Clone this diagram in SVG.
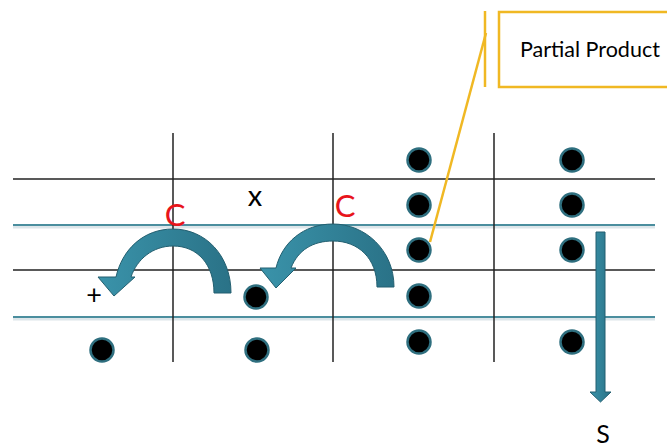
<svg xmlns="http://www.w3.org/2000/svg" width="667" height="448" viewBox="0 0 667 448">
<defs>
<style>
.blk{stroke:#222;stroke-width:1.5;fill:none}
.tl{stroke:#4B8E9E;stroke-width:2;fill:none}
.sh{stroke:#DDE6EA;stroke-width:3;fill:none}
.dot{fill:#000;stroke:#2F6F7F;stroke-width:2.5}
.arr{fill:url(#g);stroke:#235F70;stroke-width:1}
.or{stroke:#F0B823;stroke-width:2.5;fill:none}
.c{font-family:"Lato","Open Sans",sans-serif;font-size:31px;fill:#E8141B}
.t{font-family:"Lato","Open Sans",sans-serif;fill:#000}
</style>
<linearGradient id="g" x1="0" y1="0" x2="1" y2="0">
<stop offset="0" stop-color="#3A93AA"/>
<stop offset="1" stop-color="#2A7287"/>
</linearGradient>
</defs>
<rect width="667" height="448" fill="#fff"/>
<g id="grid">
<line class="blk" x1="13" y1="179" x2="655" y2="179"/>
<line class="blk" x1="13" y1="270" x2="655" y2="270"/>
<line class="sh" x1="13" y1="227" x2="655" y2="227"/>
<line class="sh" x1="13" y1="319" x2="655" y2="319"/>
<line class="tl" x1="13" y1="225" x2="655" y2="225"/>
<line class="tl" x1="13" y1="317" x2="655" y2="317"/>
<line class="blk" x1="173" y1="133" x2="173" y2="362"/>
<line class="blk" x1="333" y1="133" x2="333" y2="362"/>
<line class="blk" x1="494" y1="133" x2="494" y2="362"/>
</g>
<g id="dots">
<circle class="dot" cx="419" cy="160" r="11.5"/>
<circle class="dot" cx="419" cy="205" r="11.5"/>
<circle class="dot" cx="419" cy="250" r="11.5"/>
<circle class="dot" cx="419" cy="296" r="11.5"/>
<circle class="dot" cx="419" cy="342" r="11.5"/>
<circle class="dot" cx="572" cy="160" r="11.5"/>
<circle class="dot" cx="572" cy="205" r="11.5"/>
<circle class="dot" cx="572" cy="250" r="11.5"/>
<circle class="dot" cx="572" cy="342" r="11.5"/>
<circle class="dot" cx="256" cy="297" r="11.5"/>
<circle class="dot" cx="257" cy="350" r="11.5"/>
<circle class="dot" cx="102" cy="350" r="11.5"/>
</g>
<g id="connectors">
<path id="carry1" class="arr" d="M231,293 C231,255 205,229 173,229 C143,229 122,250 116,277 L98,277 L114,296 L135,277 L131,277 C137,259 153,246 173,246 C198,246 214,265 214,293 Z"/>
<path id="carry2" class="arr" d="M394,287 C394,250 365,224 333,224 C303,224 282,243 276,268 L260,268 L276,288 L296,268 L291,268 C298,250 313,241 333,241 C358,241 377,258 377,287 Z"/>
<path id="sum" class="arr" d="M596,232 L605,232 L605,392 L611,392 L600.5,402 L590,392 L596,392 Z"/>
<line class="or" x1="486" y1="33" x2="430" y2="242"/>
</g>
<g id="callout">
<line class="or" x1="485" y1="11" x2="485" y2="87"/>
<rect class="or" x="499" y="12" width="180" height="75"/>
<text class="t" x="520" y="57" font-size="21.5">Partial Product</text>
</g>
<g id="labels">
<text class="c" x="175" y="226" text-anchor="middle">C</text>
<text class="c" x="345" y="217" text-anchor="middle">C</text>
<text class="t" x="255" y="206" font-size="29" text-anchor="middle">x</text>
<text class="t" x="94" y="304" font-size="27" text-anchor="middle">+</text>
<text class="t" x="603" y="443" font-size="25" text-anchor="middle">S</text>
</g>
</svg>
